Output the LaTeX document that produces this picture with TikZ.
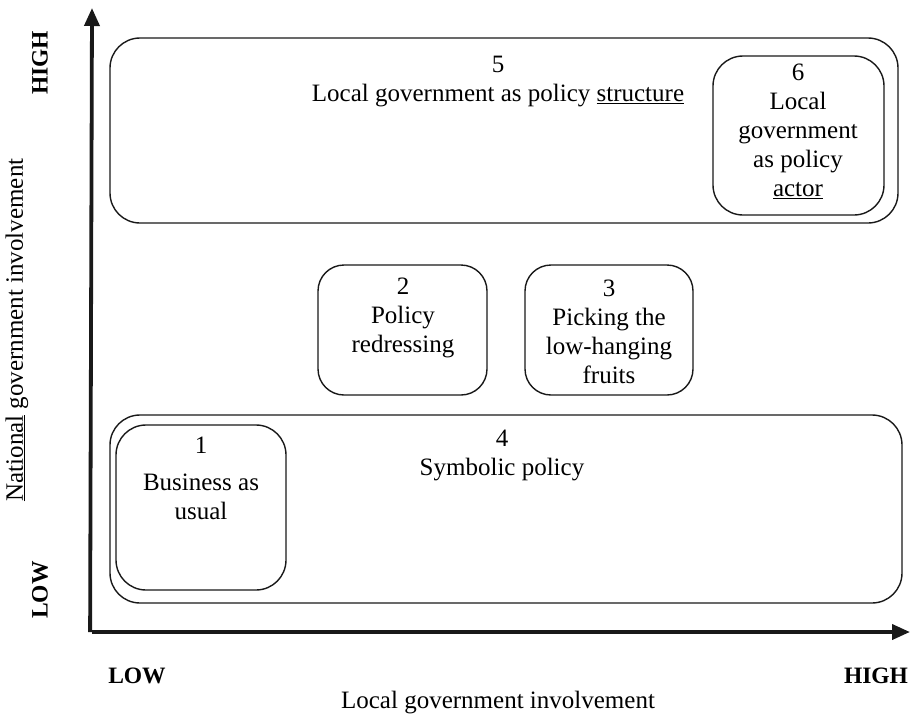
\documentclass[tikz,border=0pt]{standalone}
\usepackage{fontspec}
\setmainfont{Liberation Serif}
\usetikzlibrary{arrows.meta}
\begin{document}
\begin{tikzpicture}[x=1pt,y=-1pt,
  box/.style={draw=black!90,line width=1.4pt,rounded corners=30pt,minimum width=#1},
  txt/.style={align=center,font=\fontsize{25}{29}\selectfont,inner sep=0pt},
  lab/.style={font=\bfseries\fontsize{23.5}{28}\selectfont,inner sep=0pt},
  axis/.style={line width=3.8pt,black!90,-{Triangle[length=18pt,width=15pt]}}]
\useasboundingbox (0,0) rectangle (910,718);
% boxes
\node[box=788pt,minimum height=185pt] (b5) at (504,130.5) {};
\node[box=171pt,minimum height=159pt] (b6) at (798.5,135.5) {};
\node[box=169pt,minimum height=130pt,rounded corners=26pt] (b2) at (402.5,330) {};
\node[box=168pt,minimum height=130pt,rounded corners=26pt] (b3) at (609,330) {};
\node[box=792pt,minimum height=188pt] (b4) at (506,509) {};
\node[box=170pt,minimum height=165pt] (b1) at (201,507.5) {};
% texts
\node[txt] (t5) at (498,82) {5\\Local government as policy \underline{structure}};
\node[txt] (t6) at (798,131) {6\\Local\\government\\as policy\\\underline{actor}};
\node[txt] (t2) at (403,318) {2\\Policy\\redressing};
\node[txt] (t3) at (609,332) {3\\Picking the\\low-hanging\\fruits};
\node[txt] (t4) at (502,455) {4\\Symbolic policy};
\node[txt] (t1) at (201,478) {1\\[8pt]Business as\\usual};
% axes
\coordinate (o) at (92,632);
\coordinate (ytop) at (92,8);
\coordinate (xend) at (910,632);
\draw[axis] ([xshift=-1.9pt]o) -- (ytop);
\draw[axis] (o) -- (xend);
% axis labels
\node[lab,rotate=90] (yhigh) at (40,63) {HIGH};
\node[lab,rotate=90] (ylow) at (40,590) {LOW};
\node[lab] (xlow) at (137,676) {LOW};
\node[lab] (xhigh) at (876,676) {HIGH};
\node[txt] (xlab) at (498,703) {Local government involvement};
\node[txt,rotate=90] (ylab) at (17,330) {\underline{National} government involvement};
\end{tikzpicture}
\end{document}
